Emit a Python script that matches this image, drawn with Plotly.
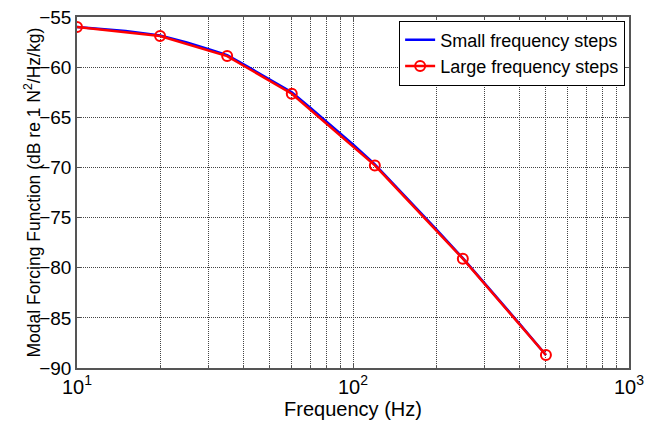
import plotly.graph_objects as go

# Small frequency steps (blue, smooth curve)
small_f = [10, 15, 20, 25, 30, 35, 40, 50, 60, 70, 80, 100, 120, 150, 200, 250, 300, 400, 500]
small_db = [-56.0, -56.4, -56.85, -57.55, -58.2, -58.8, -59.7, -61.2, -62.5, -64.05, -65.4, -67.7, -69.7, -72.5, -76.15, -79.05, -81.55, -85.55, -88.7]

# Large frequency steps (red, circles)
large_f = [10, 20, 35, 60, 120, 250, 500]
large_db = [-56.0, -56.9, -58.9, -62.65, -69.8, -79.1, -88.7]

x_tickvals = [10, 100, 1000]
x_ticktext = ["10<sup>1</sup>", "10<sup>2</sup>", "10<sup>3</sup>"]
x_minorvals = [20, 30, 40, 50, 60, 70, 80, 90, 200, 300, 400, 500, 600, 700, 800, 900]
y_tickvals = [-55, -60, -65, -70, -75, -80, -85, -90]
y_title = "Modal Forcing Function (dB re 1 N<sup>2</sup>/Hz/kg)"

FONT = "Liberation Sans, Arial, sans-serif"
GRID = "#444"
AX = "#555"

fig = go.Figure()
fig.add_trace(go.Scatter(x=small_f, y=small_db, mode="lines", name="Small frequency steps",
                         line=dict(color="#0000ff", width=2.5)))
fig.add_trace(go.Scatter(x=large_f, y=large_db, mode="lines+markers", name="Large frequency steps",
                         line=dict(color="#ff0000", width=2.5),
                         marker=dict(symbol="circle-open", size=10, color="#ff0000", line=dict(width=2))))

fig.update_layout(
    width=654, height=423,
    margin=dict(l=77, r=25, t=17, b=55, autoexpand=False),
    paper_bgcolor="white", plot_bgcolor="white",
    font=dict(family=FONT, size=17, color="black"),
    legend=dict(x=0.993, y=0.99, xanchor="right", yanchor="top",
                bordercolor="black", borderwidth=1, bgcolor="white",
                font=dict(size=18), itemwidth=30, tracegroupgap=0),
    showlegend=True,
)
fig.add_annotation(text=y_title, xref="paper", yref="paper", x=-0.0815, y=0.5,
                   xanchor="center", yanchor="middle", textangle=-90, showarrow=False,
                   font=dict(size=17.5, family=FONT, color="black"))
fig.update_xaxes(
    type="log", range=[1, 3], automargin=False,
    tickvals=x_tickvals, ticktext=x_ticktext,
    ticks="inside", ticklen=5, tickcolor=AX, mirror="allticks",
    showline=True, linecolor=AX, linewidth=1.5,
    showgrid=True, gridcolor=GRID, griddash="1px,1px", gridwidth=1,
    minor=dict(tickvals=x_minorvals, showgrid=True, gridcolor=GRID, griddash="1px,1px", gridwidth=1,
               ticks="inside", ticklen=3, tickcolor=AX),
    title=dict(text="Frequency (Hz)", standoff=4, font=dict(size=20)),
    tickfont=dict(size=20),
    zeroline=False,
)
fig.update_yaxes(
    range=[-90, -55], tickvals=y_tickvals, automargin=False,
    ticks="inside", ticklen=5, tickcolor=AX, mirror="allticks",
    showline=True, linecolor=AX, linewidth=1.5,
    showgrid=True, gridcolor=GRID, griddash="1px,1px", gridwidth=1,
    tickfont=dict(size=19),
    zeroline=False,
)

fig.write_html("out.html", config={"displayModeBar": False},
               post_script="document.body.style.margin='0';document.body.style.padding='0';document.body.style.overflow='hidden';")
